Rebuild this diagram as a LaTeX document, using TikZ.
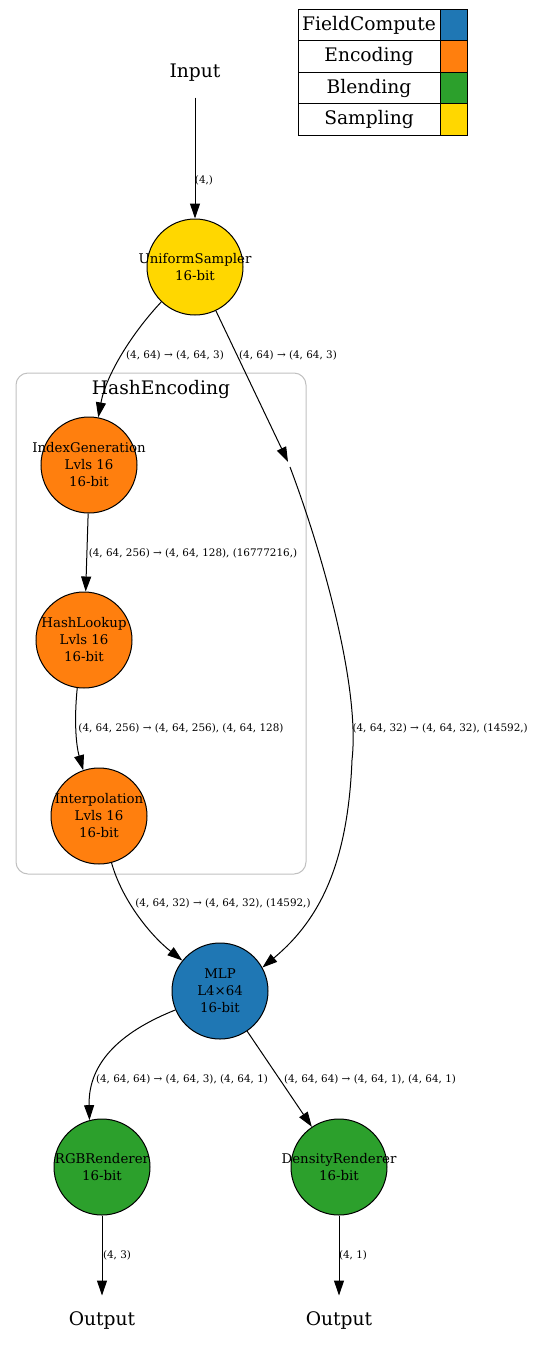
\documentclass[tikz,border=0pt]{standalone}
\usepackage{fontspec}
\setmainfont{DejaVu Serif}
\usetikzlibrary{arrows.meta}
\definecolor{fieldblue}{HTML}{1F77B4}
\definecolor{encorange}{HTML}{FF7F0E}
\definecolor{blendgreen}{HTML}{2CA02C}
\definecolor{samplegold}{HTML}{FFD700}
\definecolor{clustergray}{HTML}{C0C0C0}
\begin{document}
\begin{tikzpicture}[x=0.75pt,y=-0.75pt,
  line width=0.75pt,
  flow/.style={-{Triangle[length=11.25pt,width=7.5pt]}},
  opnode/.style={circle, draw=black, line width=0.75pt, minimum size=72pt, inner sep=0pt},
  optext/.style={align=center, font=\fontsize{10}{12.75}\selectfont, inner sep=0pt},
  term/.style={font=\fontsize{14}{16}\selectfont, minimum height=36pt, inner sep=0pt},
  elabel/.style={font=\fontsize{7.8}{9}\selectfont, inner sep=0pt},
  legtext/.style={draw=black, minimum width=106.5pt, minimum height=23.55pt, font=\fontsize{14}{16}\selectfont, inner sep=0pt},
  legswatch/.style={draw=black, minimum width=20.25pt, minimum height=23.55pt, inner sep=0pt},
]
\useasboundingbox (0,0) rectangle (534,1349);

% legend
\node[legtext] (lg1) at (369,25.2) {FieldCompute};
\node[legswatch, fill=fieldblue] (ls1) at (453.5,25.2) {};
\node[legtext] (lg2) at (369,56.6) {Encoding};
\node[legswatch, fill=encorange] (ls2) at (453.5,56.6) {};
\node[legtext] (lg3) at (369,88) {Blending};
\node[legswatch, fill=blendgreen] (ls3) at (453.5,88) {};
\node[legtext] (lg4) at (369,119.4) {Sampling};
\node[legswatch, fill=samplegold] (ls4) at (453.5,119.4) {};

% cluster
\draw[clustergray, rounded corners=9pt] (16,373) rectangle (306,874);
\node[font=\fontsize{14}{16}\selectfont, inner sep=0pt] (hashlbl) at (161,389) {HashEncoding};

% terminals
\node[term] (inp) at (195,73) {Input};
\node[term] (out1) at (102,1320) {Output};
\node[term] (out2) at (339,1320) {Output};

% operators
\node[opnode, fill=samplegold] (us) at (195,267)
  {}; \node[optext] (ust) at (us) {UniformSampler\\16-bit};
\node[opnode, fill=encorange] (ig) at (89,465)
  {}; \node[optext] (igt) at (ig) {IndexGeneration\\Lvls 16\\16-bit};
\node[opnode, fill=encorange] (hl) at (84,640)
  {}; \node[optext] (hlt) at (hl) {HashLookup\\Lvls 16\\16-bit};
\node[opnode, fill=encorange] (ip) at (99,816)
  {}; \node[optext] (ipt) at (ip) {Interpolation\\Lvls 16\\16-bit};
\node[opnode, fill=fieldblue] (mlp) at (220,991)
  {}; \node[optext] (mlpt) at (mlp) {MLP\\L4×64\\16-bit};
\node[opnode, fill=blendgreen] (rgb) at (102,1167)
  {}; \node[optext] (rgbt) at (rgb) {RGBRenderer\\16-bit};
\node[opnode, fill=blendgreen] (dr) at (339,1167)
  {}; \node[optext] (drt) at (dr) {DensityRenderer\\16-bit};

% pass-through point for the skip connection
\coordinate (vt) at (288,462);
\coordinate (vs) at (290,467);

% connectors
\draw[flow] (inp) -- (us);
\draw[flow] (us.-134) .. controls (132,333) and (106,375) .. (ig.79);
\draw[flow] (us) -- (vt);
\draw[flow] (vs) .. controls (325,560) and (360,690) .. (352,760)
  .. controls (348,860) and (322,918) .. (mlp.29);
\draw[flow] (ig.-91) -- (hl.88);
\draw[flow] (hl.-98) .. controls (74,720) and (76,745) .. (ip.109);
\draw[flow] (ip.-75) .. controls (122,900) and (150,935) .. (mlp.141);
\draw[flow] (mlp.-157) .. controls (125,1030) and (88,1060) .. (rgb.105);
\draw[flow] (mlp) -- (dr);
\draw[flow] (rgb) -- (out1);
\draw[flow] (dr) -- (out2);

% edge labels
\node[elabel] (e1) at (204,180) {(4,)};
\node[elabel] (e2) at (175,355) {(4, 64) → (4, 64, 3)};
\node[elabel] (e3) at (288,355) {(4, 64) → (4, 64, 3)};
\node[elabel] (e4) at (193,553) {(4, 64, 256) → (4, 64, 128), (16777216,)};
\node[elabel] (e5) at (181,728) {(4, 64, 256) → (4, 64, 256), (4, 64, 128)};
\node[elabel, anchor=west] (e6) at (352,728) {(4, 64, 32) → (4, 64, 32), (14592,)};
\node[elabel] (e7) at (223,903) {(4, 64, 32) → (4, 64, 32), (14592,)};
\node[elabel] (e8) at (182,1079) {(4, 64, 64) → (4, 64, 3), (4, 64, 1)};
\node[elabel] (e9) at (370,1079) {(4, 64, 64) → (4, 64, 1), (4, 64, 1)};
\node[elabel] (e10) at (117,1255) {(4, 3)};
\node[elabel] (e11) at (353,1255) {(4, 1)};
\end{tikzpicture}
\end{document}
